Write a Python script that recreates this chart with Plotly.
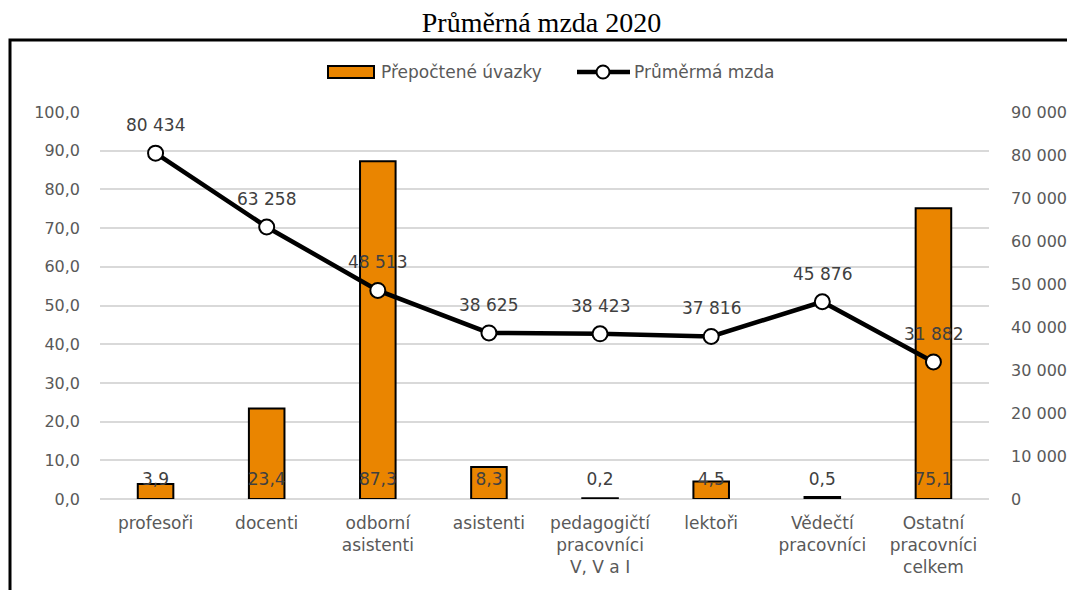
import plotly.graph_objects as go

categories = ["profesoři", "docenti", "odborní<br>asistenti", "asistenti",
              "pedagogičtí<br>pracovníci<br>V, V a I", "lektoři",
              "Vědečtí<br>pracovníci", "Ostatní<br>pracovníci<br>celkem"]
uvazky = [3.9, 23.4, 87.3, 8.3, 0.2, 4.5, 0.5, 75.1]
mzda = [80434, 63258, 48513, 38625, 38423, 37816, 45876, 31882]
left_ticks = [0, 10, 20, 30, 40, 50, 60, 70, 80, 90, 100]
right_ticks = [0, 10000, 20000, 30000, 40000, 50000, 60000, 70000, 80000, 90000]
legend_names = ["Přepočtené úvazky", "Průměrmá mzda"]

gray = "#595959"
label_gray = "#404040"
font_family = "DejaVu Sans, sans-serif"
orange = "#EA8500"

# plot area in page pixels (page has 8px body margin)
PX0, PX1, PY0, PY1 = 100, 989, 112, 499
def px(xp):
    return (xp - PX0) / (PX1 - PX0)
def py(yp):
    return 1 + (PY0 - yp) / (PY1 - PY0)

fig = go.Figure()
fig.add_trace(go.Bar(
    x=categories, y=uvazky, name=legend_names[0],
    marker=dict(color=orange, line=dict(color="black", width=2)),
    width=0.32, yaxis="y", showlegend=False,
))
# labels at inside base of bars
fig.add_trace(go.Scatter(
    x=categories, y=[4.6] * len(uvazky), mode="text",
    text=[f"{v:.1f}".replace(".", ",") for v in uvazky],
    textfont=dict(color=label_gray, size=17, family=font_family),
    showlegend=False, hoverinfo="skip", yaxis="y",
))
fig.add_trace(go.Scatter(
    x=categories, y=mzda, name=legend_names[1], yaxis="y2",
    mode="lines+markers", showlegend=False,
    line=dict(color="black", width=4.5),
    marker=dict(color="white", size=15, line=dict(color="black", width=2)),
))
annotations = []
for c, v in zip(categories, mzda):
    annotations.append(dict(x=c, y=v, xref="x", yref="y2", yshift=28,
                            text=f"{v:,}".replace(",", " "), showarrow=False,
                            font=dict(color=label_gray, size=17, family=font_family),
                            xanchor="center", yanchor="middle"))

# custom legend
ly = py(72)
annotations.append(dict(x=px(379), y=ly, xref="paper", yref="paper", text=legend_names[0],
                        showarrow=False, xanchor="left", yanchor="middle",
                        font=dict(color=gray, size=17, family=font_family)))
annotations.append(dict(x=px(632), y=ly, xref="paper", yref="paper", text=legend_names[1],
                        showarrow=False, xanchor="left", yanchor="middle",
                        font=dict(color=gray, size=17, family=font_family)))
shapes = [
    dict(type="rect", xref="paper", yref="paper",
         x0=px(10), x1=px(1085), y0=py(610), y1=py(40),
         line=dict(color="black", width=3), fillcolor="rgba(0,0,0,0)", layer="below"),
    dict(type="rect", xref="paper", yref="paper", x0=px(328), x1=px(374), y0=py(78), y1=py(66),
         line=dict(color="black", width=2), fillcolor=orange),
    dict(type="line", xref="paper", yref="paper", x0=px(577), x1=px(630), y0=ly, y1=ly,
         line=dict(color="black", width=4.5)),
    dict(type="circle", xref="paper", yref="paper", xsizemode="pixel", ysizemode="pixel",
         xanchor=px(603), yanchor=ly, x0=-6.5, x1=6.5, y0=-6.5, y1=6.5,
         line=dict(color="black", width=2), fillcolor="white"),
]

fig.update_layout(
    width=1067, height=582,
    margin=dict(l=92, r=86, t=104, b=91, autoexpand=False),
    paper_bgcolor="white", plot_bgcolor="white",
    separators=", ",
    showlegend=False,
    title=dict(text="Průměrná mzda 2020", x=0.5, xanchor="center",
               y=1 - 14 / 582, yanchor="middle",
               font=dict(family="Liberation Serif, Times New Roman, serif", size=28, color="black")),
    font=dict(family=font_family, color=gray, size=16),
    bargap=0.68,
    xaxis=dict(showgrid=False, showline=False, ticks="", ticklabelstandoff=12,
               automargin=False, tickfont=dict(size=17, color=gray)),
    yaxis=dict(range=[0, 100], tickvals=left_ticks, tickformat=".1f",
               showgrid=True, gridcolor="#D9D9D9", gridwidth=1.5,
               zeroline=True, zerolinecolor="#D9D9D9", zerolinewidth=1.5, automargin=False,
               showline=False, tickfont=dict(size=16, color=gray), ticklabelstandoff=19),
    yaxis2=dict(range=[0, 90000], tickvals=right_ticks, tickformat=",d",
                overlaying="y", side="right", showgrid=False, zeroline=False, automargin=False,
                showline=False, tickfont=dict(size=16, color=gray), ticklabelstandoff=21),
    annotations=annotations,
    shapes=shapes,
)

fig.write_html("out.html")
